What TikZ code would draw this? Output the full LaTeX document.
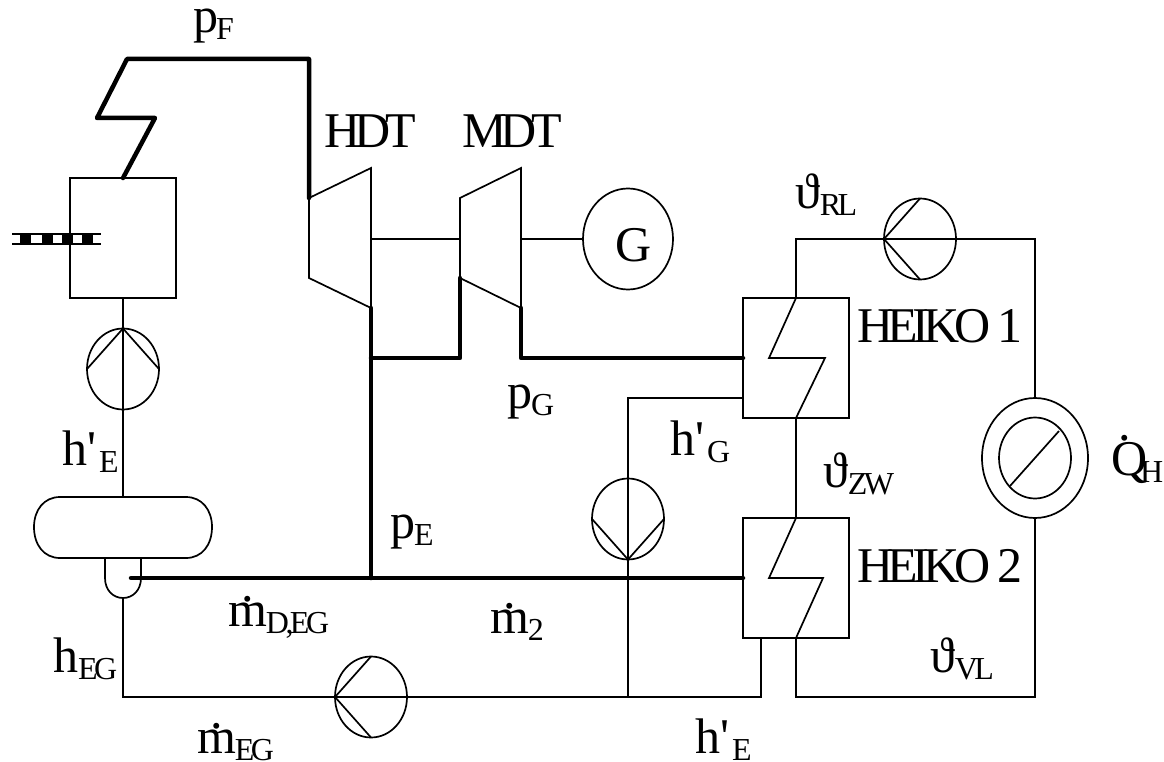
\documentclass[tikz,border=0pt]{standalone}
\usepackage{fontspec}
\setmainfont[LetterSpace=-11]{Liberation Serif}
\usepackage{tikz}
\usetikzlibrary{shapes.geometric}

\newcommand{\bigt}{\fontsize{50}{50}\selectfont}
\newcommand{\subt}[1]{\raisebox{-7pt}{\fontsize{32}{32}\selectfont #1}}
\newcommand{\dott}[3]{\ooalign{#2\cr\hidewidth\raisebox{#1}{.}\kern#3\hidewidth\cr}}
\newcommand{\primt}{\textquotesingle\kern3pt}

\tikzset{
  pipe/.style={line width=1.7pt},
  steam/.style={line width=4.5pt,line cap=round,line join=round},
  wbox/.style={draw,line width=1.7pt,rectangle,minimum width=106pt,minimum height=120pt,inner sep=0pt,outer sep=0pt},
  pump/.style={draw,line width=1.7pt,ellipse,minimum width=72pt,minimum height=81pt,inner sep=0pt,outer sep=0pt},
  lab/.style={anchor=base west,inner sep=0pt,outer sep=0pt,font=\bigt}
}

\begin{document}
\begin{tikzpicture}[x=1pt,y=-1pt]
\useasboundingbox (0,0) rectangle (1164,762);

\node[wbox] (kessel) at (123,238) {};
\node[wbox] (heiko1) at (796,358) {};
\node[wbox] (heiko2) at (796,578) {};
\node[pump] (pumpS) at (123,369) {};
\node[pump] (pumpE) at (371,697) {};
\node[pump] (pumpG) at (628,519) {};
\node[pump] (pumpH) at (920,239) {};
\node[pump,minimum width=90pt,minimum height=101pt] (gen) at (628,239) {};
\node[pump,minimum width=106pt,minimum height=120pt] (ringH) at (1035,458) {};
\node[pump] (ringI) at (1035,458) {};

\coordinate (drumT) at (123,497);
\coordinate (wellB) at (123,598);
\coordinate (wellS) at (131,578);
\coordinate (hdtTL) at (309,198);
\coordinate (hdtTR) at (371,168);
\coordinate (hdtBR) at (371,308);
\coordinate (hdtBL) at (309,278);
\coordinate (mdtTL) at (460,198);
\coordinate (mdtTR) at (521,168);
\coordinate (mdtBR) at (521,308);
\coordinate (mdtBL) at (460,278);
\coordinate (hdtS) at (371,239);
\coordinate (mdtSL) at (460,239);
\coordinate (mdtSR) at (521,239);
\coordinate (knotE) at (371,578);
\coordinate (knotG) at (371,358);
\coordinate (h1S) at (743,358);
\coordinate (h2S) at (743,578);
\coordinate (h1K) at (743,398);
\coordinate (h2A) at (761,638);
\coordinate (ecke1) at (123,697);
\coordinate (ecke2) at (628,398);
\coordinate (ecke3) at (628,697);
\coordinate (ecke4) at (761,697);
\coordinate (ecke5) at (796,697);
\coordinate (ecke6) at (1035,697);
\coordinate (ecke7) at (796,239);
\coordinate (ecke8) at (1035,239);

\draw[pipe] (60,497)--(186,497) .. controls (202,497) and (212,510) .. (212,527) .. controls (212,545) and (202,558) .. (186,558)--(60,558) .. controls (44,558) and (34,545) .. (34,527) .. controls (34,510) and (44,497) .. (60,497);
\draw[pipe] (105,558)--(105,578) .. controls (105,590) and (113,598) .. (wellB) .. controls (133,598) and (141,590) .. (141,578)--(141,558);

\draw[line width=2.5pt] (12,234)--(101,234);
\draw[line width=2.5pt] (12,244)--(101,244);
\foreach \x in {20,42,62,82}
  \fill[black] (\x,233) rectangle (\x+11,245);

\draw[pipe] (kessel.south)--(pumpS.south);
\draw[pipe] (pumpS.south)--(drumT);
\draw[pipe] (pumpS.north)--(pumpS.west);
\draw[pipe] (pumpS.north)--(pumpS.east);

\draw[pipe] (wellB)--(ecke1)--(pumpE.west);
\draw[pipe] (pumpE.west)--(pumpE.east)--(ecke4)--(h2A);
\draw[pipe] (pumpE.west)--(pumpE.north);
\draw[pipe] (pumpE.west)--(pumpE.south);

\draw[pipe] (h1K)--(ecke2)--(ecke3);
\draw[pipe] (pumpG.south)--(pumpG.west);
\draw[pipe] (pumpG.south)--(pumpG.east);

\draw[pipe] (heiko1.north)--(ecke7)--(pumpH.west);
\draw[pipe] (pumpH.west)--(pumpH.east)--(ecke8)--(ringH.north);
\draw[pipe] (pumpH.west)--(pumpH.north);
\draw[pipe] (pumpH.west)--(pumpH.south);
\draw[pipe] (ringH.south)--(ecke6)--(ecke5)--(heiko2.south);
\draw[pipe] (heiko1.south)--(heiko2.north);
\draw[pipe] (1010,486)--(1059,431);

\draw[pipe] (heiko1.north)--(769,358)--(825,358)--(heiko1.south);
\draw[pipe] (heiko2.north)--(769,578)--(823,578)--(heiko2.south);

\draw[pipe] (hdtTL)--(hdtTR)--(hdtBR)--(hdtBL)--cycle;
\draw[pipe] (mdtTL)--(mdtTR)--(mdtBR)--(mdtBL)--cycle;
\draw[pipe] (hdtS)--(mdtSL);
\draw[pipe] (mdtSR)--(gen.west);

\draw[steam] (kessel.north)--(155,118)--(97,118)--(127,59)--(309,59)--(hdtTL);
\draw[steam] (hdtBR)--(knotE);
\draw[steam] (knotG)--(460,358)--(mdtBL);
\draw[steam] (mdtBR)--(521,358)--(h1S);
\draw[steam] (wellS)--(h2S);

\node[lab] (pF) at (193,33) {p\kern-2pt\subt{F}};
\node[lab] (hdt) at (324,148) {HDT};
\node[lab] (mdt) at (462,148) {MDT};
\node[lab] (gtxt) at (615,261) {G};
\node[lab] (tRL) at (795,208) {ϑ\subt{RL}};
\node[lab] (h1txt) at (857,342) {HEIKO 1};
\node[lab] (h2txt) at (857,582) {HEIKO 2};
\node[lab] (pG) at (507,408) {p\kern-1pt\subt{G}};
\node[lab] (hG) at (670,455) {h\primt\subt{G}};
\node[lab] (tZW) at (823,487) {ϑ\subt{ZW}};
\node[lab] (qH) at (1111,475) {\dott{35pt}{Q}{8pt}\kern-7pt\subt{H}};
\node[lab] (hE) at (62,465) {h\primt\subt{E}};
\node[lab] (pE) at (390,538) {p\kern-1pt\subt{E}};
\node[lab] (mDEG) at (228,626) {\dott{25pt}{m}{0pt}\kern-1pt\subt{D,EG}};
\node[lab] (m2) at (490,633) {\dott{25pt}{m}{0pt}\kern-1pt\subt{2}};
\node[lab] (hEG) at (53,672) {h\subt{EG}};
\node[lab] (tVL) at (930,672) {ϑ\subt{VL}};
\node[lab] (mEG) at (197,753) {\dott{25pt}{m}{0pt}\kern-1pt\subt{EG}};
\node[lab] (hEu) at (695,753) {h\primt\subt{E}};

\end{tikzpicture}
\end{document}
